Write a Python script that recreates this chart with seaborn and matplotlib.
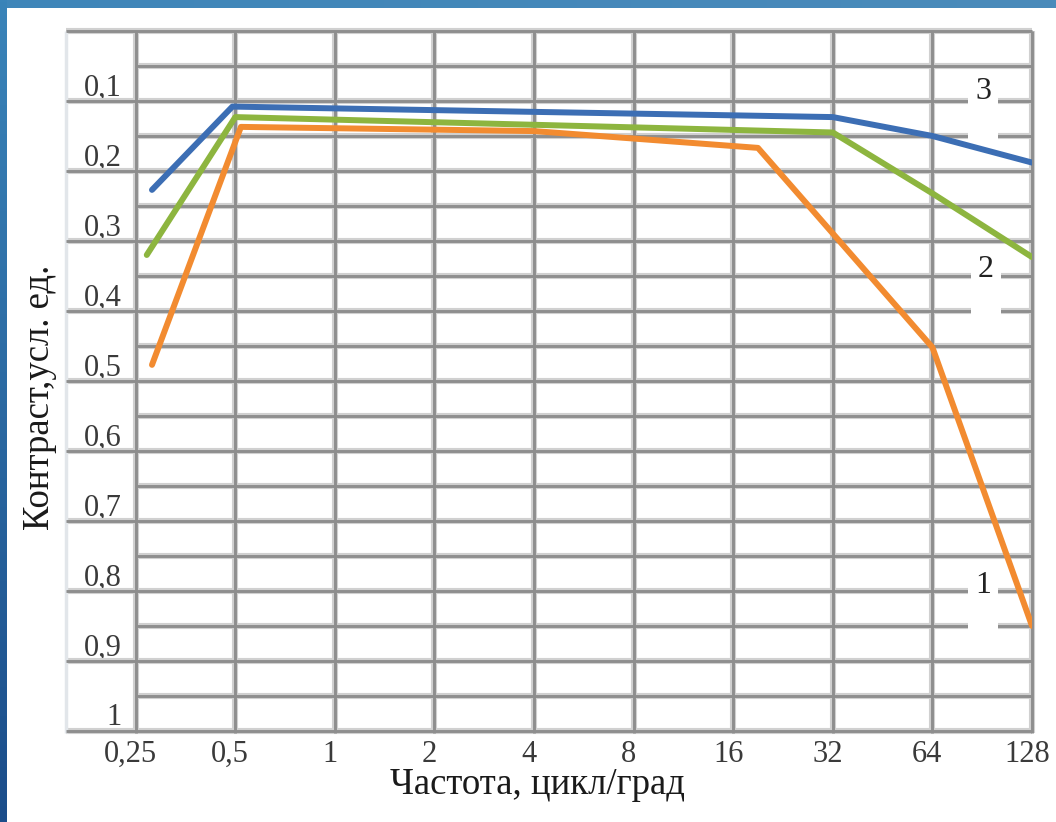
import numpy as np
import pandas as pd
import matplotlib
matplotlib.use("Agg")
import matplotlib.pyplot as plt
import seaborn as sns
from matplotlib.transforms import ScaledTranslation
from matplotlib.colors import LinearSegmentedColormap

# ---------------- data ----------------
freq_1 = [0.28, 0.52, 4, 19, 64, 128]
contrast_1 = [0.477, 0.137, 0.143, 0.167, 0.452, 0.850]
freq_2 = [0.27, 0.50, 32, 64, 128]
contrast_2 = [0.320, 0.123, 0.145, 0.232, 0.323]
freq_3 = [0.28, 0.49, 32, 64, 128]
contrast_3 = [0.227, 0.108, 0.123, 0.150, 0.188]
curve_names = ["1", "2", "3"]
curve_colors = ["#F28B30", "#8DB53F", "#3C6EB4"]
# where the curve numbers are written (frequency, contrast of top of label)
label_freq = [91, 93, 91]
label_contrast = [0.772, 0.320, 0.066]

x_ticks = [0.25, 0.5, 1, 2, 4, 8, 16, 32, 64, 128]
x_tick_labels = ["0,25", "0,5", "1", "2", "4", "8", "16", "32", "64", "128"]
y_ticks = [0.1, 0.2, 0.3, 0.4, 0.5, 0.6, 0.7, 0.8, 0.9, 1.0]
y_tick_labels = ["0,1", "0,2", "0,3", "0,4", "0,5", "0,6", "0,7", "0,8", "0,9", "1"]
y_minor = [0.05, 0.15, 0.25, 0.35, 0.45, 0.55, 0.65, 0.75, 0.85, 0.95]
x_label = "Частота, цикл/град"
y_label = "Контраст,усл. ед."

df = pd.concat([
    pd.DataFrame({"freq": f, "contrast": c, "curve": n})
    for f, c, n in zip([freq_1, freq_2, freq_3],
                       [contrast_1, contrast_2, contrast_3], curve_names)
], ignore_index=True)

# ---------------- figure ----------------
sns.set_theme(style="white")
plt.rcParams["font.family"] = ["Liberation Serif", "DejaVu Serif"]

W, H, DPI = 1056, 822, 100
fig = plt.figure(figsize=(W / DPI, H / DPI), dpi=DPI, facecolor="white")

# blue slide frame (top band + left band)
top_ax = fig.add_axes([0, 1 - 8 / H, 1, 8 / H])
top_ax.imshow(np.linspace(0, 1, 256)[None, :], aspect="auto",
              cmap=LinearSegmentedColormap.from_list("t", ["#3F86B9", "#4A8BBB"]))
top_ax.axis("off")
left_ax = fig.add_axes([0, 0, 7 / W, 1])
left_ax.imshow(np.linspace(0, 1, 256)[:, None], aspect="auto",
               cmap=LinearSegmentedColormap.from_list("l", ["#3A84B9", "#1B4D8A"]))
left_ax.axis("off")

L, R, T, B = 66, 1032, 31, 733
ax = fig.add_axes([L / W, 1 - B / H, (R - L) / W, (B - T) / H])
ax.set_xscale("log", base=2)
xmin = 0.25 * 2 ** (-(136 - 66) / 100)
ax.set_xlim(xmin, 128)
ax.set_ylim(1.003, 0.0)
for s in ax.spines.values():
    s.set_visible(False)

halo = dict(color="#D0D0D0", lw=4.4, clip_on=False, zorder=1)
core = dict(color="#8E8E8E", lw=2.1, clip_on=False, zorder=2)

# full-width horizontal lines (0.0 ... 1.0)
for y in [0.0] + y_ticks:
    ax.hlines(y, xmin, 128, **halo)
    ax.hlines(y, xmin, 128, **core)
# half-step lines start at the 0.25 gridline
for y in y_minor:
    ax.hlines(y, 0.25, 128, **halo)
    ax.hlines(y, 0.25, 128, **core)
# vertical lines
for x in x_ticks:
    ax.vlines(x, 0.0, 1.003, **halo)
    ax.vlines(x, 0.0, 1.003, **core)
ax.vlines(xmin, 0.0, 1.003, color="#E2E6EA", lw=2.5, clip_on=False, zorder=1)

# curves
sns.lineplot(data=df, x="freq", y="contrast", hue="curve",
             palette=dict(zip(curve_names, curve_colors)),
             estimator=None, sort=False, legend=False, lw=4.3,
             ax=ax, zorder=5)

# curve numbers with white boxes breaking the grid
for name, fx, cy in zip(curve_names, label_freq, label_contrast):
    ax.text(fx, cy, name + "\n ", ha="center", va="top", fontsize=23,
            color="#222222", linespacing=1.0, zorder=4,
            bbox=dict(boxstyle="square,pad=0.22", fc="white", ec="none"))

# ticks
ax.set_xticks(x_ticks)
ax.set_xticklabels(x_tick_labels)
ax.set_yticks(y_ticks)
ax.set_yticklabels(y_tick_labels)
ax.minorticks_off()
ax.tick_params(axis="both", length=0, labelsize=22, labelcolor="#3A3A3A")
ax.tick_params(axis="y", pad=-40)
ax.tick_params(axis="x", pad=5)
ax.set_xlabel("")
ax.set_ylabel("")
for lab in ax.get_yticklabels():
    lab.set_transform(lab.get_transform() + ScaledTranslation(0, 0.165, fig.dpi_scale_trans))
for lab in ax.get_xticklabels():
    lab.set_transform(lab.get_transform() + ScaledTranslation(-0.05, 0, fig.dpi_scale_trans))

fig.text(537 / W, 1 - 785 / H, x_label, ha="center", va="center",
         fontsize=26.5, color="#1A1A1A")
fig.text(40 / W, 1 - 397 / H, y_label, ha="center", va="center",
         rotation=90, fontsize=26.5, color="#1A1A1A")

fig.savefig("out.png", dpi=DPI, facecolor="white")
